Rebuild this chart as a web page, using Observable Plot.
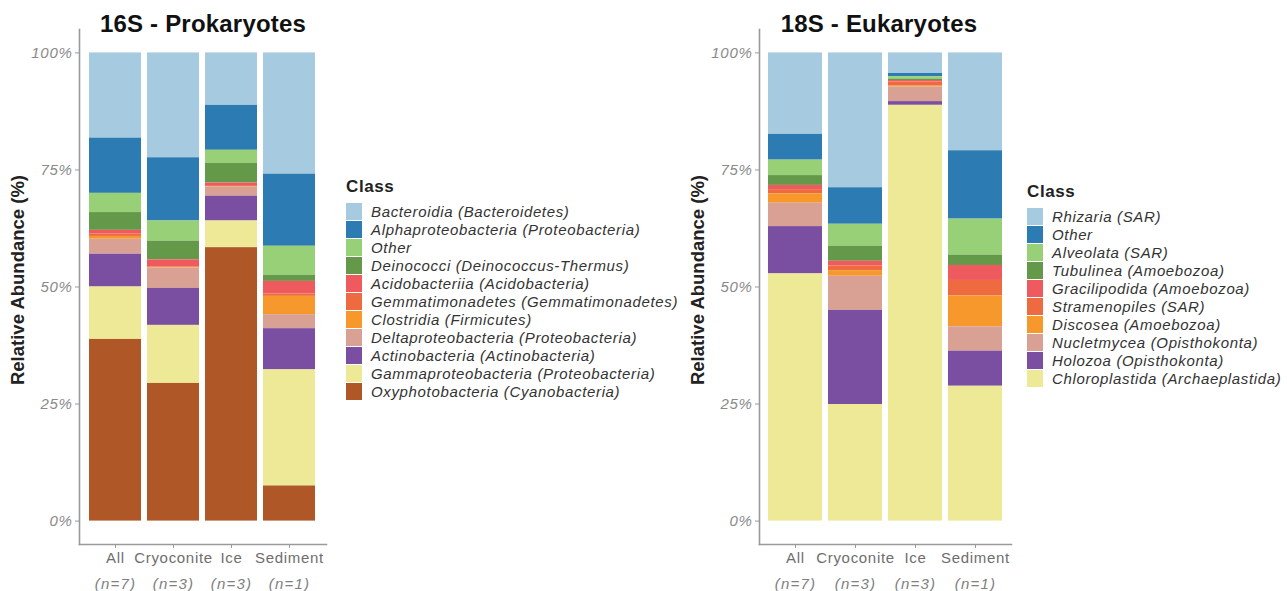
<!DOCTYPE html>
<html><head><meta charset="utf-8">
<script src="https://cdn.jsdelivr.net/npm/d3@7"></script>
<script src="https://cdn.jsdelivr.net/npm/@observablehq/plot@0.6"></script>
<style>
body{margin:0;background:#fff;font-family:Arial,"Liberation Sans",sans-serif;}
#root{position:relative;width:1287px;height:591px;overflow:hidden;background:#fff;}
.panel{position:absolute;top:0;}
.title{position:absolute;font-weight:bold;font-size:24px;line-height:24px;letter-spacing:0.2px;color:#111;transform:translateX(-50%);white-space:nowrap;}
.ytitle{position:absolute;font-weight:bold;font-size:18.5px;color:#222;transform:translate(-50%,-50%) rotate(-90deg);white-space:nowrap;}
.legend{position:absolute;}
.head{font-weight:bold;font-size:17px;line-height:18px;letter-spacing:0.6px;color:#222;margin-bottom:6px;}
.row{display:flex;align-items:center;height:18px;}
.sw{width:16px;height:17px;margin-right:9px;flex:none;}
.lab{font-style:italic;font-size:15px;letter-spacing:0.65px;color:#333;white-space:nowrap;}
</style>
</head><body><div id="root"></div>
<script>
const samples = ["All", "Cryoconite", "Ice", "Sediment"];
const sampleN = ["(n=7)", "(n=3)", "(n=3)", "(n=1)"];
const yTicks = [0, 25, 50, 75, 100];

// 16S classes (legend order, top of stack first)
const classes16 = [
  "Bacteroidia (Bacteroidetes)",
  "Alphaproteobacteria (Proteobacteria)",
  "Other",
  "Deinococci (Deinococcus-Thermus)",
  "Acidobacteriia (Acidobacteria)",
  "Gemmatimonadetes (Gemmatimonadetes)",
  "Clostridia (Firmicutes)",
  "Deltaproteobacteria (Proteobacteria)",
  "Actinobacteria (Actinobacteria)",
  "Gammaproteobacteria (Proteobacteria)",
  "Oxyphotobacteria (Cyanobacteria)"
];
const colors16 = ["#a6cbe0","#2c7bb2","#97d077","#64994a","#ef5a5f","#ee6a40","#f7982d","#d9a193","#7a4fa2","#eee996","#b05727"];
const all16        = [18.2, 11.8, 4.1, 3.8, 0.8, 0.5, 0.6, 3.2, 7.0, 11.2, 38.8];
const cryoconite16 = [22.4, 13.5, 4.3, 4.0, 1.5, 0.2, 0.1, 4.3, 7.9, 12.4, 29.4];
const ice16        = [11.2, 9.6, 2.8, 4.2, 0.7, 0.1, 0.1, 1.9, 5.3, 5.7, 58.4];
const sediment16   = [25.9, 15.4, 6.2, 1.3, 2.7, 0.5, 3.9, 3.0, 8.8, 24.8, 7.5];

// 18S classes
const classes18 = [
  "Rhizaria (SAR)",
  "Other",
  "Alveolata (SAR)",
  "Tubulinea (Amoebozoa)",
  "Gracilipodida (Amoebozoa)",
  "Stramenopiles (SAR)",
  "Discosea (Amoebozoa)",
  "Nucletmycea (Opisthokonta)",
  "Holozoa (Opisthokonta)",
  "Chloroplastida (Archaeplastida)"
];
const colors18 = ["#a6cbe0","#2c7bb2","#97d077","#64994a","#ef5a5f","#ee6a40","#f7982d","#d9a193","#7a4fa2","#eee996"];
const all18        = [17.4, 5.5, 3.3, 2.1, 0.9, 0.9, 2.0, 5.0, 10.1, 52.8];
const cryoconite18 = [28.8, 7.8, 4.7, 3.2, 1.0, 1.0, 1.2, 7.3, 20.1, 24.9];
const ice18        = [4.4, 0.7, 0.5, 0.3, 0.3, 0.9, 0.2, 3.1, 0.8, 88.8];
const sediment18   = [20.9, 14.6, 7.7, 2.2, 3.2, 3.3, 6.6, 5.2, 7.5, 28.8];

const root = document.getElementById("root");

function makeChart(classes, colors, values, rangeWidth) {
  const rows = [];
  samples.forEach((s, j) => classes.forEach((c, i) => rows.push({sample: s, cls: c, value: values[j][i]})));
  const ml = 79, mt = 29, H = 591, bottom = 544;
  const svg = Plot.plot({
    width: ml + rangeWidth + 4, height: H,
    marginLeft: ml, marginRight: 4, marginTop: mt, marginBottom: H - bottom,
    style: {fontFamily: "Arial, 'Liberation Sans', sans-serif", background: "transparent"},
    x: {domain: samples, paddingInner: 0.1, paddingOuter: 0.15, label: null},
    y: {domain: [-5, 105], label: null},
    color: {domain: classes, range: colors},
    marks: [
      Plot.barY(rows, Plot.stackY({x: "sample", y: "value", fill: "cls", order: [...classes].reverse()})),
      Plot.frame({anchor: "left", stroke: "#9a9a9a", strokeWidth: 1.6}),
      Plot.frame({anchor: "bottom", stroke: "#9a9a9a", strokeWidth: 1.6}),
      Plot.axisY({ticks: yTicks, tickFormat: d => d + "%", fontStyle: "italic", fontSize: 15, fill: "#8a8a8a", stroke: "#9a9a9a", tickSize: 4, tickPadding: 3, label: null}),
      Plot.axisX({tickSize: 4, tickPadding: 4, fontSize: 15, fill: "#6e6e6e", stroke: "#9a9a9a", label: null}),
      Plot.axisX({tickSize: 0, tickFormat: d => sampleN[samples.indexOf(d)], fontStyle: "italic", fontSize: 15, fill: "#808080", dy: 25, label: null})
    ]
  });
  svg.style.letterSpacing = "0.7px";
  const xl = svg.querySelectorAll('g[aria-label="x-axis tick label"]');
  if (xl.length) xl[xl.length - 1].style.letterSpacing = "1.2px";
  return svg;
}

function addPanel(left, title, titleX, classes, colors, values, rangeWidth, legendX, legendY) {
  const div = document.createElement("div");
  div.className = "panel";
  div.style.left = left + "px";
  div.appendChild(makeChart(classes, colors, values, rangeWidth));
  root.appendChild(div);

  const t = document.createElement("div");
  t.className = "title"; t.textContent = title;
  t.style.left = titleX + "px"; t.style.top = "12px";
  root.appendChild(t);

  const yt = document.createElement("div");
  yt.className = "ytitle"; yt.textContent = "Relative Abundance (%)";
  yt.style.left = (left + 18) + "px"; yt.style.top = "280px";
  root.appendChild(yt);

  const lg = document.createElement("div");
  lg.className = "legend";
  lg.style.left = legendX + "px"; lg.style.top = legendY + "px";
  const h = document.createElement("div"); h.className = "head"; h.textContent = "Class";
  lg.appendChild(h);
  classes.forEach((c, i) => {
    const r = document.createElement("div"); r.className = "row";
    const sw = document.createElement("div"); sw.className = "sw"; sw.style.background = colors[i];
    const lb = document.createElement("div"); lb.className = "lab"; lb.textContent = c;
    r.appendChild(sw); r.appendChild(lb); lg.appendChild(r);
  });
  root.appendChild(lg);
}

addPanel(0, "16S - Prokaryotes", 203, classes16, colors16, [all16, cryoconite16, ice16, sediment16], 247, 346, 178);
addPanel(680, "18S - Eukaryotes", 879, classes18, colors18, [all18, cryoconite18, ice18, sediment18], 252, 1027, 183);
</script></body></html>
